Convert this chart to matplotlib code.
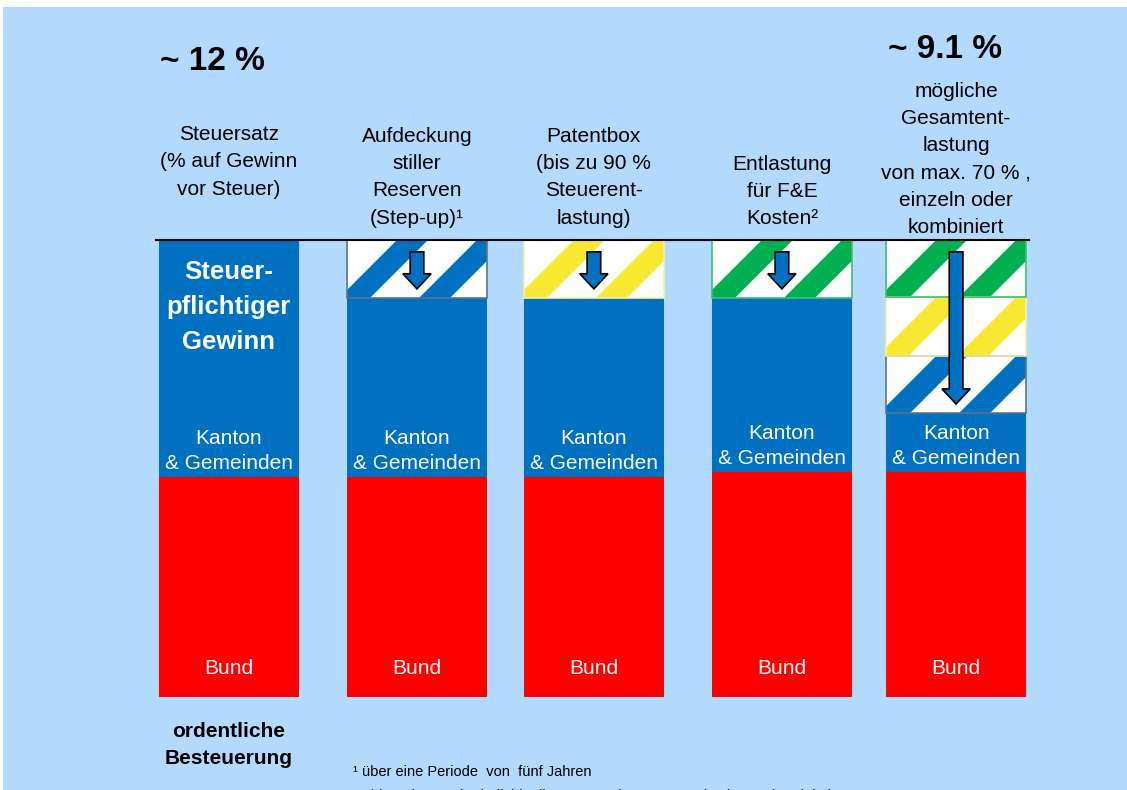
import matplotlib
matplotlib.use('Agg')
import matplotlib.pyplot as plt
from matplotlib.patches import Rectangle, Polygon, FancyArrow
import numpy as np

plt.rcParams['font.family'] = ['Liberation Sans', 'DejaVu Sans']

# ---------------- data ----------------
headers = [
    "Steuersatz\n(% auf Gewinn\nvor Steuer)",
    "Aufdeckung\nstiller\nReserven\n(Step-up)¹",
    "Patentbox\n(bis zu 90 %\nSteuerent-\nlastung)",
    "Entlastung\nfür F&E\nKosten²",
    "mögliche\nGesamtent-\nlastung\nvon max. 70 % ,\neinzeln oder\nkombiniert",
]
bund = [48.1, 48.1, 48.1, 49.2, 49.2]
kanton = [51.9, 39.2, 39.2, 38.1, 12.9]
relief_stepup = [0, 12.7, 0, 0, 12.5]
relief_patent = [0, 0, 12.7, 0, 12.9]
relief_fe = [0, 0, 0, 12.7, 12.5]
rate_labels = ["~ 12 %", "~ 9.1 %"]
bar_label_top = "Steuer-\npflichtiger\nGewinn"
kanton_label = "Kanton\n& Gemeinden"
bund_label = "Bund"
bottom_label = "ordentliche\nBesteuerung"
footnotes = ["¹ über eine Periode  von  fünf Jahren",
             "² Abhängig von der individuellen Unternehmens organisation und -tätigkeit"]

# ---------------- layout / style ----------------
x = np.array([0.0, 1.033, 2.005, 3.038, 3.995])   # bar centres
width = 0.769
header_y = [117.1, 113.7, 113.7, 110.6, 117.6]

BG = '#B3D9FD'
BLUE = '#0070C0'
RED = '#FF0000'
GREEN = '#00B050'
YELLOW = '#F8E831'

fig = plt.figure(figsize=(11.27, 7.9), dpi=100)
fig.patch.set_facecolor('white')
ax = fig.add_axes([0, 0, 1, 1])
ax.set_xlim(-1.258, 4.934)
ax.set_ylim(-20.35, 152.5)
ax.axis('off')

ax.add_patch(Rectangle((3 / 1127, 0), 1, 783 / 790, transform=ax.transAxes,
                       facecolor=BG, edgecolor='none', zorder=0))

bund_a = np.array(bund)
kanton_a = np.array(kanton)

ax.bar(x, bund_a, width, color=RED, zorder=2, linewidth=0)
ax.bar(x, kanton_a, width, bottom=bund_a, color=BLUE, zorder=2, linewidth=0)

inv = ax.transData.inverted()


def striped(xc, y0, h, color, edge):
    rect = ax.bar(xc, h, width, bottom=y0, color='white', linewidth=0, zorder=3)[0]
    (px0, py0) = ax.transData.transform((xc - width / 2, y0))
    (px1, py1) = ax.transData.transform((xc + width / 2, y0 + h))
    hh = py1 - py0
    period, sw, phase = 80.0, 31.0, 50.0
    s = px0 + phase - hh
    while s > px0 - hh - sw:
        s -= period
    while s < px1 + period:
        pts = np.array([(s, py0), (s + sw, py0), (s + sw + hh, py1), (s + hh, py1)])
        poly = Polygon(inv.transform(pts), closed=True, facecolor=color,
                       edgecolor='none', zorder=3.1)
        ax.add_patch(poly)
        poly.set_clip_path(rect)
        s += period
    ax.add_patch(Rectangle((xc - width / 2, y0), width, h, fill=False,
                           edgecolor=edge, linewidth=1.2, zorder=3.2))


bottom = bund_a + kanton_a
for vals, col, edge in [(relief_stepup, BLUE, '#5B7393'),
                        (relief_patent, YELLOW, '#F8F0A0'),
                        (relief_fe, GREEN, '#3CC070')]:
    for i, v in enumerate(vals):
        if v > 0:
            striped(x[i], bottom[i], v, col, edge)
    bottom = bottom + np.array(vals)

# arrows showing relief
total = bottom
for i in range(len(x)):
    base = bund_a[i] + kanton_a[i]
    if total[i] - base > 0.1:
        y_start = total[i] - 2.6
        y_end = base + 2.0
        ax.add_patch(FancyArrow(x[i], y_start, 0, -(y_start - y_end), width=0.075,
                                head_width=0.155, head_length=3.3,
                                length_includes_head=True, facecolor=BLUE,
                                edgecolor='black', linewidth=1.2, zorder=4))

# top line
ax.plot([x[0] - width / 2 - 0.02, x[-1] + width / 2 + 0.02], [100, 100],
        color='black', linewidth=1.5, zorder=5, solid_capstyle='butt')

# texts
ax.text(x[0] - 0.09, 139.0, rate_labels[0], fontsize=24, fontweight='bold',
        ha='center', va='center')
ax.text(x[4] - 0.06, 141.6, rate_labels[1], fontsize=24, fontweight='bold',
        ha='center', va='center')

for i, t in enumerate(headers):
    ax.text(x[i], header_y[i], t, fontsize=15, ha='center', va='center',
            linespacing=1.55)

ax.text(x[0], 85.3, bar_label_top, fontsize=18.5, fontweight='bold',
        color='white', ha='center', va='center', linespacing=1.57)

for i in range(len(x)):
    ax.text(x[i], bund_a[i] + 5.7, kanton_label, fontsize=15, color='white',
            ha='center', va='center', linespacing=1.45)
    ax.text(x[i], 6.3, bund_label, fontsize=15, color='white',
            ha='center', va='center')

ax.text(x[0], -10.5, bottom_label, fontsize=15, fontweight='bold',
        ha='center', va='center', linespacing=1.55)

ax.text(0.681, -16.4, footnotes[0], fontsize=10.5, ha='left', va='center')
ax.text(0.681, -21.6, footnotes[1], fontsize=10.5, ha='left', va='center')

fig.savefig('out.png', dpi=100, facecolor='white')
